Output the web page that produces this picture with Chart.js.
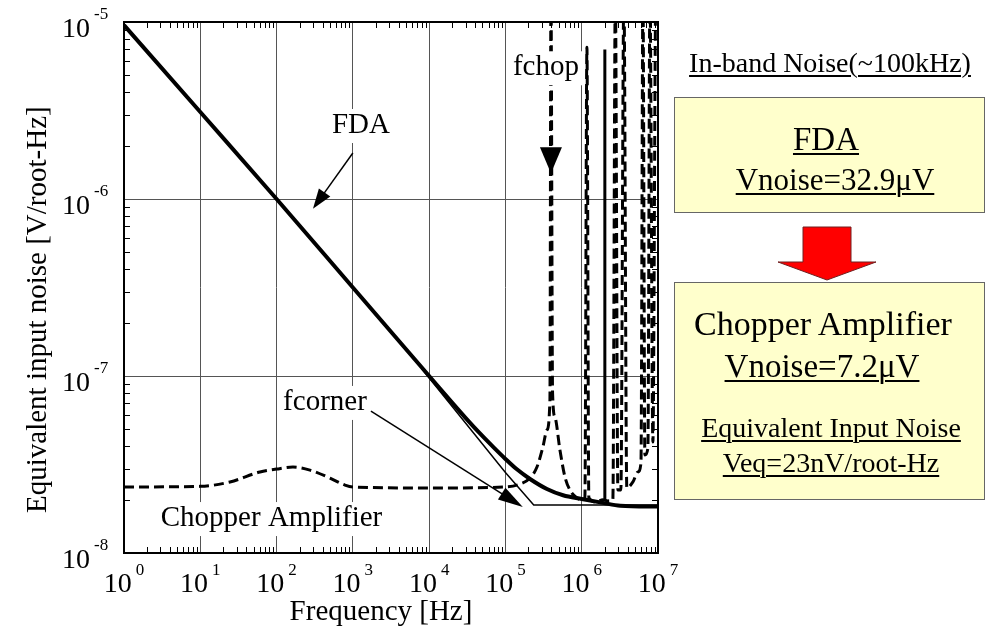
<!DOCTYPE html>
<html>
<head>
<meta charset="utf-8">
<script src="https://cdn.jsdelivr.net/npm/chart.js@4.4.1/dist/chart.umd.min.js"></script>
<style>
  body { margin: 0; background: #fff; }
  #wrap { position: relative; width: 990px; height: 631px; font-family: "Liberation Serif", "Times New Roman", serif; color: #000; }
  #c { position: absolute; left: 0; top: 0; }
  .box { position: absolute; background: #ffffcc; border: 1px solid #666; box-sizing: border-box; }
  .t { position: absolute; text-align: center; white-space: nowrap; line-height: 1; transform: translateX(-50%); }
  .u { text-decoration: underline; text-decoration-thickness: 1.5px; text-underline-offset: 3px; }
</style>
</head>
<body>
<div id="wrap">
  <canvas id="c" width="990" height="631"></canvas>

  <div class="t u" style="left:830px; top:49px; font-size:28px;">In-band Noise(~100kHz)</div>

  <div class="box" style="left:674px; top:97px; width:311px; height:116px;"></div>
  <div class="t u" style="left:826px; top:123px; font-size:33px;">FDA</div>
  <div class="t u" style="left:835px; top:164px; font-size:31px;">Vnoise=32.9μV</div>

  <svg style="position:absolute; left:0; top:0;" width="990" height="631">
    <polygon points="803,227 851,227 851,262 876,262 827,280 778,262 803,262" fill="#ff0000" stroke="#702020" stroke-width="1"/>
  </svg>

  <div class="box" style="left:674px; top:282px; width:311px; height:218px;"></div>
  <div class="t" style="left:823px; top:307px; font-size:34px;">Chopper Amplifier</div>
  <div class="t u" style="left:822px; top:350px; font-size:33px;">Vnoise=7.2μV</div>
  <div class="t u" style="left:831px; top:414px; font-size:28px;">Equivalent Input Noise</div>
  <div class="t u" style="left:831px; top:449px; font-size:28px;">Veq=23nV/root-Hz</div>
</div>

<script>
// frequency [Hz] / equivalent input noise [V/root-Hz]
const fdaFreq  = [1, 10, 100, 1e3, 1e4, 2e4, 3e4, 4.6e4, 7e4, 1e5, 1.4e5, 2.1e5, 3.5e5, 5.7e5, 1e6, 1.9e6, 3.2e6, 1e7];
const fdaNoise = [9.6e-6, 3.1e-6, 1e-6, 3.16e-7, 1e-7, 7.07e-8, 5.8e-8, 4.75e-8, 3.95e-8, 3.4e-8, 2.98e-8, 2.62e-8, 2.3e-8, 2.12e-8, 2.02e-8, 1.92e-8, 1.85e-8, 1.83e-8];

// thin asymptote lines (1/f line + white floor) meeting at fcorner
const cornerFreq  = [8e3, 1e5, 2.35e5, 1e7];
const cornerNoise = [1.1e-7, 2.85e-8, 1.87e-8, 1.87e-8];

// chopper amplifier output, spikes at fchop and its harmonics
const chopFreq = [1, 10, 24.5, 60.6, 100, 164, 274, 501, 787, 1e3, 1e4, 1e5, 1.55e5, 2.1e5, 2.59e5, 3.1e5, 3.5e5, 3.83e5,
  3.95e5, 4.15e5, 4.46e5, 5.18e5, 6.03e5, 7.0e5, 8.65e5, 1e6, 1.1e6, 1.17e6, 1.24e6, 1.54e6, 1.9e6, 2.2e6, 2.56e6,
  2.76e6, 2.98e6, 3.26e6, 3.57e6, 3.9e6, 4.69e6, 5.45e6, 5.98e6, 6.35e6, 6.73e6, 7.37e6, 7.84e6, 8.57e6, 9.38e6, 1e7];
const chopNoise = [2.36e-8, 2.38e-8, 2.52e-8, 2.87e-8, 2.98e-8, 3.06e-8, 2.94e-8, 2.65e-8, 2.42e-8, 2.36e-8, 2.33e-8, 2.36e-8, 2.45e-8, 2.65e-8, 3.06e-8, 3.97e-8, 4.95e-8, 7.3e-8,
  1.5e-5, 8e-8, 5.86e-8, 3.82e-8, 2.69e-8, 2.27e-8, 2.05e-8, 2.0e-8, 2.05e-8, 7.2e-6, 2.05e-8, 1.94e-8, 2.0e-8, 1.97e-8, 2.0e-8,
  1.5e-5, 2.27e-8, 2.27e-8, 1.5e-5, 2.33e-8, 2.52e-8, 2.87e-8, 3.22e-8, 1.5e-5, 3.58e-8, 3.92e-8, 1.5e-5, 4.24e-8, 1.5e-5, 1.5e-5];

// the solid spike near 2 MHz
const spikeFreq  = [2.01e6, 2.01e6];
const spikeNoise = [2.0e-8, 7.0e-6];

// axes
const xTickExps = [0, 1, 2, 3, 4, 5, 6, 7];
const yTickExps = [-8, -7, -6, -5];
const xTitle = 'Frequency [Hz]';
const yTitle = 'Equivalent input noise [V/root-Hz]';

// text notes and arrows inside the plot (in data units)
const notes = [
  { text: 'FDA', f: 1277, v: 2.36e-6 },
  { text: 'fchop', f: 3.4e5, v: 5.0e-6 },
  { text: 'fcorner', f: 431, v: 6.43e-8 },
  { text: 'Chopper Amplifier', f: 85.8, v: 1.42e-8 },
];
const arrows = [
  { from: [1000, 1.82e-6], to: [300, 8.8e-7], len: 20, half: 7, w: 1.5 },
  { from: null, to: [3.95e5, 1.4e-6], dir: [0, 1], len: 26, half: 11, w: 0 },
  { from: [1726, 6.34e-8], to: [1.69e5, 1.82e-8], len: 25, half: 7, w: 1.5 },
];

const SERIF = '"Liberation Serif", "Times New Roman", serif';

const pts = (xs, ys) => xs.map((x, i) => ({ x: x, y: ys[i] }));

const isDecade = v => Math.abs(Math.log10(v) - Math.round(Math.log10(v))) < 1e-9;

function logTicks(lo, hi) {
  const out = [];
  for (let e = lo; e <= hi; e++) {
    for (let m = 1; m <= 9; m++) {
      if (e === hi && m > 1) break;
      out.push({ value: m * Math.pow(10, e) });
    }
  }
  return out;
}

const decorations = {
  id: 'decorations',
  afterDatasetsDraw(chart) {
    const { ctx, scales: { x, y } } = chart;
    ctx.save();
    ctx.font = `29px ${SERIF}`;
    ctx.textAlign = 'center';
    ctx.textBaseline = 'alphabetic';
    // white boxes behind notes, then text
    notes.forEach(n => {
      const px = x.getPixelForValue(n.f), py = y.getPixelForValue(n.v);
      const w = ctx.measureText(n.text).width;
      ctx.fillStyle = '#fff';
      ctx.fillRect(px - w / 2 - 4, py - 24, w + 8, 34);
      ctx.fillStyle = '#000';
      ctx.fillText(n.text, px, py);
    });
    arrows.forEach(a => {
      const x1 = x.getPixelForValue(a.to[0]), y1 = y.getPixelForValue(a.to[1]);
      let ux, uy, x0, y0;
      if (a.from) {
        x0 = x.getPixelForValue(a.from[0]); y0 = y.getPixelForValue(a.from[1]);
        const d = Math.hypot(x1 - x0, y1 - y0);
        ux = (x1 - x0) / d; uy = (y1 - y0) / d;
      } else {
        ux = a.dir[0]; uy = a.dir[1];
      }
      const bx = x1 - ux * a.len, by = y1 - uy * a.len;
      if (a.from && a.w > 0) {
        ctx.strokeStyle = '#000';
        ctx.lineWidth = a.w;
        ctx.beginPath();
        ctx.moveTo(x0, y0);
        ctx.lineTo(bx + ux, by + uy);
        ctx.stroke();
      }
      ctx.fillStyle = '#000';
      ctx.beginPath();
      ctx.moveTo(x1, y1);
      ctx.lineTo(bx - uy * a.half, by + ux * a.half);
      ctx.lineTo(bx + uy * a.half, by - ux * a.half);
      ctx.closePath();
      ctx.fill();
    });
    ctx.restore();
  },
  afterDraw(chart) {
    const { ctx, chartArea: a, scales: { x, y } } = chart;
    ctx.save();
    // inward minor ticks on all four sides
    ctx.strokeStyle = '#000';
    ctx.lineWidth = 1;
    ctx.beginPath();
    x.ticks.forEach(t => {
      if (isDecade(t.value)) return;
      const px = Math.round(x.getPixelForValue(t.value)) + 0.5;
      ctx.moveTo(px, a.bottom); ctx.lineTo(px, a.bottom - 6);
      ctx.moveTo(px, a.top); ctx.lineTo(px, a.top + 6);
    });
    y.ticks.forEach(t => {
      if (isDecade(t.value)) return;
      const py = Math.round(y.getPixelForValue(t.value)) + 0.5;
      ctx.moveTo(a.left, py); ctx.lineTo(a.left + 6, py);
      ctx.moveTo(a.right, py); ctx.lineTo(a.right - 6, py);
    });
    ctx.stroke();
    // frame
    ctx.lineWidth = 2;
    ctx.strokeRect(a.left, a.top, a.right - a.left, a.bottom - a.top);

    // tick labels as 10 with raised exponent
    ctx.fillStyle = '#000';
    ctx.textBaseline = 'alphabetic';
    ctx.textAlign = 'left';
    xTickExps.forEach(e => {
      const px = x.getPixelForValue(Math.pow(10, e));
      ctx.font = `28px ${SERIF}`;
      const w10 = ctx.measureText('10').width;
      ctx.font = `17px ${SERIF}`;
      const we = ctx.measureText(String(e)).width;
      const sx = px - (w10 + 4 + we) / 2;
      ctx.font = `28px ${SERIF}`;
      ctx.fillText('10', sx, a.bottom + 39);
      ctx.font = `17px ${SERIF}`;
      ctx.fillText(String(e), sx + w10 + 4, a.bottom + 22);
    });
    yTickExps.forEach(e => {
      const py = y.getPixelForValue(Math.pow(10, e));
      ctx.font = `28px ${SERIF}`;
      ctx.textAlign = 'right';
      ctx.fillText('10', a.left - 34, py + 15);
      ctx.font = `17px ${SERIF}`;
      ctx.textAlign = 'left';
      ctx.fillText(String(e), a.left - 30, py - 3);
    });

    // axis titles
    ctx.font = `29px ${SERIF}`;
    ctx.textAlign = 'center';
    ctx.fillText(xTitle, (a.left + a.right) / 2 - 10, a.bottom + 67);
    ctx.save();
    ctx.translate(a.left - 78, a.bottom - 40);
    ctx.rotate(-Math.PI / 2);
    ctx.textAlign = 'left';
    ctx.fillText(yTitle, 0, 0);
    ctx.restore();
    ctx.restore();
  }
};

const gridColor = c => (c.tick && isDecade(c.tick.value)) ? '#555' : 'rgba(0,0,0,0)';

new Chart(document.getElementById('c'), {
  type: 'line',
  data: {
    datasets: [
      {
        label: 'Chopper Amplifier',
        data: pts(chopFreq, chopNoise),
        borderColor: '#000',
        borderWidth: 3,
        borderDash: [10, 5],
        pointRadius: 0,
        cubicInterpolationMode: 'monotone',
      },
      {
        label: 'spike',
        data: pts(spikeFreq, spikeNoise),
        borderColor: '#000',
        borderWidth: 3,
        pointRadius: 0,
      },
      {
        label: 'fcorner',
        data: pts(cornerFreq, cornerNoise),
        borderColor: '#000',
        borderWidth: 1.5,
        pointRadius: 0,
      },
      {
        label: 'FDA',
        data: pts(fdaFreq, fdaNoise),
        borderColor: '#000',
        borderWidth: 4,
        pointRadius: 0,
        cubicInterpolationMode: 'monotone',
      },
    ]
  },
  options: {
    responsive: false,
    animation: false,
    events: [],
    layout: { padding: { left: 124, top: 22, right: 332, bottom: 78 } },
    plugins: { legend: { display: false }, tooltip: { enabled: false } },
    scales: {
      x: {
        type: 'logarithmic',
        min: 1, max: 1e7,
        afterBuildTicks: s => { s.ticks = logTicks(0, 7); },
        ticks: { display: false },
        border: { display: false },
        grid: { color: gridColor, lineWidth: 1, drawTicks: false },
      },
      y: {
        type: 'logarithmic',
        min: 1e-8, max: 1e-5,
        afterBuildTicks: s => { s.ticks = logTicks(-8, -5); },
        ticks: { display: false },
        border: { display: false },
        grid: { color: gridColor, lineWidth: 1, drawTicks: false },
      }
    }
  },
  plugins: [decorations]
});
</script>
</body>
</html>
